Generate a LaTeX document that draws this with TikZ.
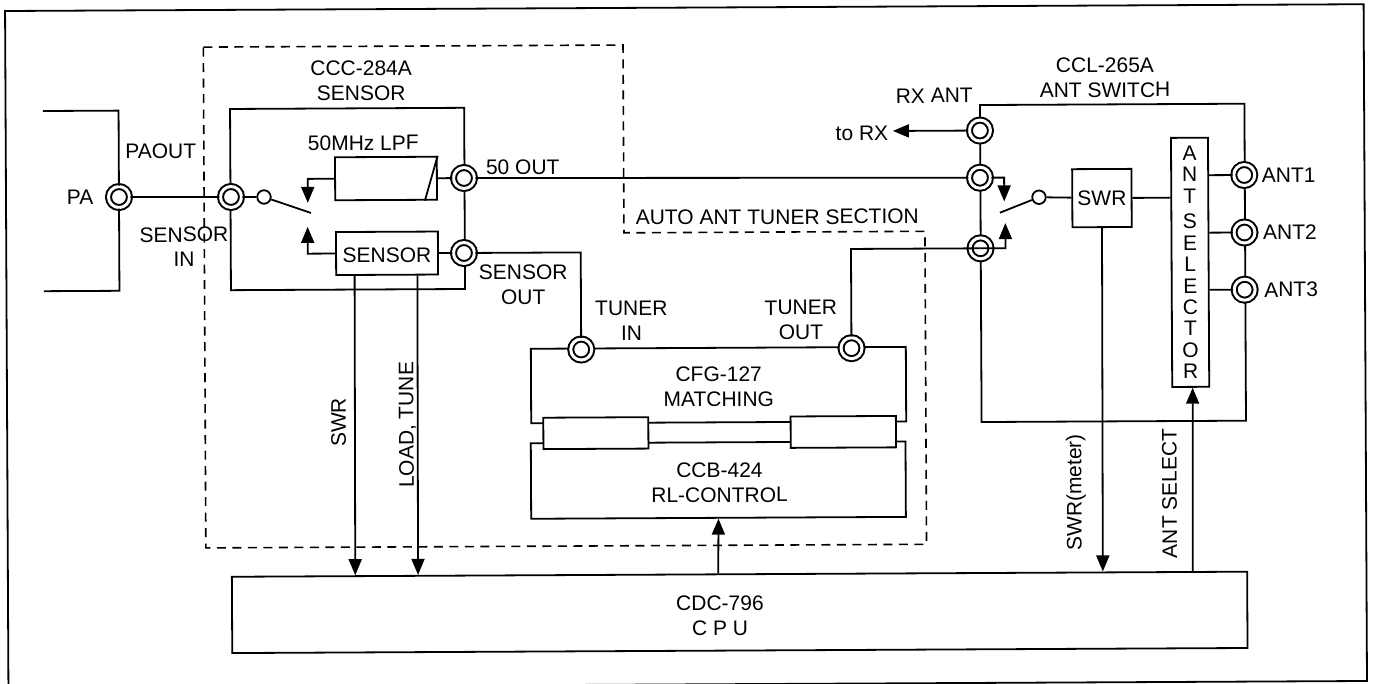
\documentclass[tikz,border=0pt]{standalone}
\usepackage{fontspec}
\setmainfont{Liberation Sans}
\usepackage{tikz}
\usetikzlibrary{arrows.meta, positioning}
\tikzset{
    wire/.style={line width=1.8pt},
    signal/.style={wire, -{Triangle[length=16pt,width=13pt]}},
    blockbox/.style={draw, wire, inner sep=0pt},
    coax/.style={circle, draw, fill=white, line width=2pt, double=white, double distance=3pt, minimum size=21pt, inner sep=0pt},
    swpivot/.style={circle, draw, fill=white, wire, minimum size=13.5pt, inner sep=0pt},
    lbl/.style={inner sep=0pt, text height=15pt, text depth=0pt},
    lbltwo/.style={inner sep=0pt, align=center}
}

\begin{document}
\begin{tikzpicture}[x=1pt, y=-1pt, every node/.style={font=\fontsize{21}{25}\selectfont}]
    \useasboundingbox (0,0) rectangle (1373,684);
    \fill[white] (0,0) rectangle (1373,684);
    \begin{scope}[rotate around={0.286:(686,342)}, transform shape]
        \draw[wire] (6.7,7.6) rectangle (1365.3,684.4);
        \draw[wire, line width=1.6pt, dash pattern=on 9pt off 6.5pt] (204.8,44.7) -- (624.5,44.7) -- (624.5,232.5) -- (925.5,232.5) -- (925.5,545.5) -- (204.8,545.5) -- cycle;

        \node[blockbox, minimum width=234.1pt, minimum height=181.2pt] (sensorbox) at (348.25,197.3) {};
        \node[blockbox, minimum width=264.4pt, minimum height=317pt] (antswitch) at (1113.4,265) {};
        \node[blockbox, minimum width=375pt, minimum height=74.5pt] (matching) at (718.3,385.25) {};
        \node[blockbox, minimum width=374.7pt, minimum height=75.5pt] (rlcontrol) at (717.65,480.25) {};
        \node[blockbox, fill=white, minimum width=105pt, minimum height=31.4pt] (relayl) at (595.4,432.7) {};
        \node[blockbox, fill=white, minimum width=105.3pt, minimum height=31.4pt] (relayr) at (842.85,432.7) {};
        \node[blockbox, minimum width=1015.3pt, minimum height=76.3pt] (cpu) at (738.35,612.65) {};
        \node[blockbox, minimum width=101.8pt, minimum height=43pt] (lpf) at (386.8,177) {};
        \node[blockbox, lbl, text height=18.5pt, minimum width=101.9pt, minimum height=43pt] (sensorblk) at (387.45,251.8) {SENSOR};
        \node[blockbox, minimum width=59.3pt, minimum height=58.1pt] (swrbox) at (1102.65,200.15) {SWR};
        \node[blockbox, fill=white, align=center, font=\fontsize{21}{21.4}\selectfont, minimum width=37pt, minimum height=249.1pt] (selector) at (1190.5,264.85) {A\\N\\T\\[4.3pt]S\\E\\L\\E\\C\\T\\O\\R};

        \coordinate (patop) at (44,107.8);
        \coordinate (pabot) at (44,288);
        \coordinate (swlpf) at (308.5,201);
        \coordinate (swsen) at (308.2,225);
        \coordinate (swend) at (311.6,211.1);
        \coordinate (swa) at (1005,203);
        \coordinate (swb) at (1006,224.7);
        \coordinate (swendr) at (1000.6,214.3);
        \coordinate (torx) at (894,132);

        \node[coax] (pa) at (119.7,194.2) {};
        \node[coax] (sensorin) at (231.7,194.7) {};
        \node[coax] (fiftyout) at (464.8,176.9) {};
        \node[coax] (sensorout) at (464.4,251.9) {};
        \node[coax] (tunerin) at (581.2,349) {};
        \node[coax] (tunerout) at (851.5,349) {};
        \node[coax] (rxant) at (981,132) {};
        \node[coax] (antb) at (980.8,179.2) {};
        \node[coax] (antc) at (981,249.8) {};
        \node[coax] (ant1) at (1245.1,177.8) {};
        \node[coax, below=34.5pt of ant1] (ant2) {};
        \node[coax, below=34.2pt of ant2] (ant3) {};
        \node[swpivot] (pivotl) at (264.7,194.9) {};
        \node[swpivot] (pivotr) at (1039.7,199) {};

        \draw[wire] (patop) -| (pa);
        \draw[wire] (pabot) -| (pa);
        \draw[wire] (pa) -- (sensorin);
        \draw[wire] (sensorin) -- (pivotl);
        \draw[wire] (pivotl) -- (swend);
        \draw[wire] (lpf.north east) -- ([xshift=-13pt]lpf.south east);
        \draw[wire] (lpf.east) -- (fiftyout);
        \draw[wire] (sensorblk.east) -- (sensorout);
        \draw[signal] (lpf.west) -| (swlpf);
        \draw[signal] (sensorblk.west) -| (swsen);
        \draw[wire] (fiftyout) -- (antb);
        \draw[wire] (sensorout) -| (tunerin);
        \draw[wire] (tunerout) |- (antc.center);
        \draw[signal] (antb) -| (swa);
        \draw[signal] (antc.center) -| (swb);
        \draw[signal] (rxant) -- (torx);
        \draw[wire] (pivotr) -- (swendr);
        \draw[wire] (pivotr) -- (swrbox);
        \draw[wire] (swrbox) -- (swrbox -| selector.west);
        \draw[wire] (ant1) -- (ant1 -| selector.east);
        \draw[wire] (ant2) -- (ant2 -| selector.east);
        \draw[wire] (ant3) -- (ant3 -| selector.east);
        \draw[signal] ([xshift=-32.5pt]sensorblk.south) -- ([xshift=124.3pt]cpu.north west);
        \draw[signal] ([xshift=30.3pt]sensorblk.south) -- ([xshift=187.1pt]cpu.north west);
        \draw[signal] ([xshift=487.3pt]cpu.north west) -- (rlcontrol.south);
        \draw[signal] (swrbox.south) -- ([xshift=871.9pt]cpu.north west);
        \draw[signal] ([xshift=961.8pt]cpu.north west) -- ([xshift=2pt]selector.south);

        \node[lbl] (paoutlbl) at (161.7,148.6) {PAOUT};
        \node[lbl] (palbl) at (80.7,193.7) {PA};
        \node[lbltwo] (sensorinlbl) at (184.5,244.6) {SENSOR\\IN};
        \node[lbltwo] (sensorlbl) at (362.5,78.9) {CCC-284A\\SENSOR};
        \node[lbl] (lpflbl) at (364.3,141.1) {50MHz LPF};
        \node[lbl] (fiftylbl) at (523.6,165.9) {50 OUT};
        \node[lbl] (sectionlbl) at (777.9,217.2) {AUTO ANT TUNER SECTION};
        \node[lbltwo] (sensoroutlbl) at (523.5,284) {SENSOR\\OUT};
        \node[lbltwo] (tunerinlbl) at (631.5,320.8) {TUNER\\IN};
        \node[lbltwo] (tuneroutlbl) at (801,320.8) {TUNER\\OUT};
        \node[lbltwo] (switchlbl) at (1106.3,79.6) {CCL-265A\\ANT SWITCH};
        \node[lbl] (rxantlbl) at (935.5,96.7) {RX ANT};
        \node[lbl] (torxlbl) at (863,133.9) {to RX};
        \node[lbl, right=6pt of ant1] (ant1lbl) {ANT1};
        \node[lbl, right=7pt of ant2] (ant2lbl) {ANT2};
        \node[lbl, right=8pt of ant3] (ant3lbl) {ANT3};
        \node[lbltwo] (matchlbl) at (718.5,386.8) {CFG-127\\MATCHING};
        \node[lbltwo] (rllbl) at (718.8,482.7) {CCB-424\\RL-CONTROL};
        \node[lbltwo] (cpulbl) at (718.6,615.7) {CDC-796\\C P U};
        \node[lbl, rotate=90] (swrlbl) at (337.9,420.8) {SWR};
        \node[lbl, rotate=90] (loadlbl) at (405.6,423.6) {LOAD, TUNE};
        \node[lbl, rotate=90] (meterlbl) at (1073.2,494.4) {SWR(meter)};
        \node[lbl, rotate=90] (selectlbl) at (1168.5,495.7) {ANT SELECT};
    \end{scope}
\end{tikzpicture}
\end{document}
